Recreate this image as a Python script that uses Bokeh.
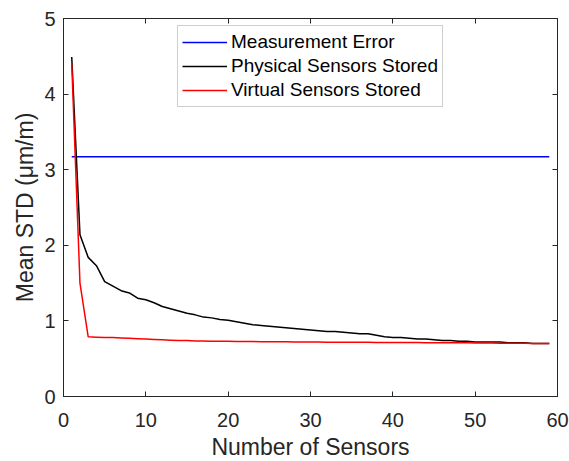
from bokeh.plotting import figure
from bokeh.models import LinearAxis, FixedTicker, Legend, LegendItem
from bokeh.embed import file_html
from bokeh.resources import INLINE

# Number of sensors used
sensors = list(range(1, 60))

# Mean standard deviation (µm/m) when physical sensors are stored
physical_std = [
    4.49, 2.14, 1.84, 1.73, 1.52, 1.46, 1.40, 1.37, 1.30, 1.28,
    1.24, 1.19, 1.16, 1.13, 1.10, 1.08, 1.05, 1.04, 1.02, 1.01,
    0.99, 0.97, 0.95, 0.94, 0.93, 0.92, 0.91, 0.90, 0.89, 0.88,
    0.87, 0.86, 0.86, 0.85, 0.84, 0.83, 0.83, 0.81, 0.79, 0.78,
    0.78, 0.77, 0.76, 0.76, 0.75, 0.74, 0.74, 0.73, 0.73, 0.72,
    0.72, 0.72, 0.72, 0.71, 0.71, 0.71, 0.70, 0.70, 0.70,
]

# Mean standard deviation (µm/m) when virtual sensors are stored
virtual_std = [
    4.41, 1.50, 0.79, 0.785, 0.78, 0.78, 0.775, 0.77, 0.765, 0.76,
    0.755, 0.75, 0.745, 0.74, 0.74, 0.735, 0.735, 0.73, 0.73, 0.73,
    0.728, 0.727, 0.726, 0.725, 0.725, 0.724, 0.723, 0.722, 0.721, 0.72,
    0.72, 0.719, 0.718, 0.718, 0.717, 0.716, 0.716, 0.715, 0.715, 0.714,
    0.714, 0.713, 0.713, 0.712, 0.712, 0.711, 0.711, 0.71, 0.71, 0.709,
    0.708, 0.707, 0.706, 0.705, 0.704, 0.703, 0.702, 0.701, 0.70,
]

# Measurement error level (µm/m)
measurement_error = 3.17
error_x = [1, 59]
error_y = [measurement_error, measurement_error]

x_ticks = [0, 10, 20, 30, 40, 50, 60]
y_ticks = [0, 1, 2, 3, 4, 5]

FONT = "Liberation Sans"
AXIS_COLOR = "#262626"

p = figure(
    frame_width=494, frame_height=378,
    x_range=(0, 60), y_range=(0, 5),
    output_backend="svg", toolbar_location=None,
    min_border_left=63, min_border_right=12,
    min_border_top=18, min_border_bottom=65,
)
p.xgrid.visible = False
p.ygrid.visible = False
p.outline_line_color = AXIS_COLOR
p.background_fill_color = "white"
p.border_fill_color = "white"

r_err = p.line(error_x, error_y, line_color="#0000ff", line_width=1.5)
r_phys = p.line(sensors, physical_std, line_color="#000000", line_width=1.5)
r_virt = p.line(sensors, virtual_std, line_color="#ff0000", line_width=1.5)


def style_axis(ax, ticks):
    ax.ticker = FixedTicker(ticks=ticks)
    ax.axis_line_color = AXIS_COLOR
    ax.major_tick_line_color = AXIS_COLOR
    ax.major_tick_in = 5
    ax.major_tick_out = 0
    ax.minor_tick_line_color = None
    ax.major_label_text_font = FONT
    ax.major_label_text_color = AXIS_COLOR
    ax.major_label_text_font_size = "20px"


style_axis(p.xaxis[0], x_ticks)
p.xaxis[0].major_label_standoff = 16
p.xaxis[0].axis_label = "Number of Sensors"
p.xaxis[0].axis_label_text_font = FONT
p.xaxis[0].axis_label_text_font_size = "23px"
p.xaxis[0].axis_label_text_font_style = "normal"
p.xaxis[0].axis_label_text_color = AXIS_COLOR
p.xaxis[0].axis_label_standoff = 4

style_axis(p.yaxis[0], y_ticks)
p.yaxis[0].major_label_standoff = 8
p.yaxis[0].axis_label = "Mean STD (\u03bcm/m)"
p.yaxis[0].axis_label_text_font = FONT
p.yaxis[0].axis_label_text_font_size = "23px"
p.yaxis[0].axis_label_text_font_style = "normal"
p.yaxis[0].axis_label_text_color = AXIS_COLOR
p.yaxis[0].axis_label_standoff = 3

# Box-style frame: tick marks on the top and right edges, without labels
top_axis = LinearAxis(major_label_overrides={t: "" for t in x_ticks})
style_axis(top_axis, x_ticks)
top_axis.major_label_standoff = 0
p.add_layout(top_axis, "above")

right_axis = LinearAxis(major_label_overrides={t: "" for t in y_ticks})
style_axis(right_axis, y_ticks)
right_axis.major_label_standoff = 0
p.add_layout(right_axis, "right")

legend = Legend(
    items=[
        LegendItem(label="Measurement Error", renderers=[r_err]),
        LegendItem(label="Physical Sensors Stored", renderers=[r_phys]),
        LegendItem(label="Virtual Sensors Stored", renderers=[r_virt]),
    ],
    location=(114, 289),
    label_text_font=FONT,
    label_text_font_size="19px",
    label_text_color="#000000",
    glyph_width=45,
    glyph_height=24,
    label_height=24,
    label_standoff=4,
    spacing=0,
    padding=4,
    margin=0,
    border_line_color="#a0a0a0",
    border_line_width=1,
    background_fill_color="white",
    background_fill_alpha=1.0,
)
p.add_layout(legend, "center")

open("out.html", "w").write(file_html(p, INLINE))
